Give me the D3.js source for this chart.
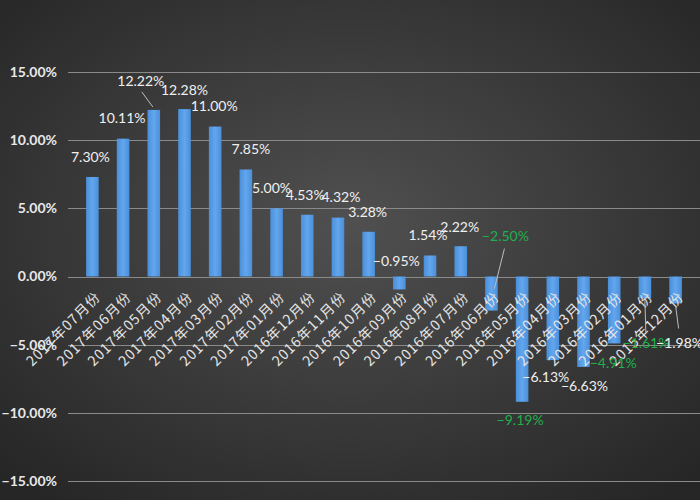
<!DOCTYPE html>
<html>
<head>
<meta charset="utf-8">
<script src="https://cdn.jsdelivr.net/npm/d3@7"></script>
<style>
  html, body { margin: 0; padding: 0; background: #333; }
  svg { display: block; }
  text { font-family: "Lato", "Noto Sans CJK SC", sans-serif; }
</style>
</head>
<body>
<div id="chart"></div>
<script>
const categories = [
  '2017年07月份', '2017年06月份', '2017年05月份', '2017年04月份', '2017年03月份',
  '2017年02月份', '2017年01月份', '2016年12月份', '2016年11月份', '2016年10月份',
  '2016年09月份', '2016年08月份', '2016年07月份', '2016年06月份', '2016年05月份',
  '2016年04月份', '2016年03月份', '2016年02月份', '2016年01月份', '2015年12月份'
];
const values = [
  7.30, 10.11, 12.22, 12.28, 11.00, 7.85, 5.00, 4.53, 4.32, 3.28,
  -0.95, 1.54, 2.22, -2.50, -9.19, -6.13, -6.63, -4.91, -1.61, -1.98
];
const yTicks = [15, 10, 5, 0, -5, -10, -15];
// which labels Excel drew in green
const greenLabels = ['2016年06月份', '2016年05月份', '2016年02月份', '2016年01月份'];

// label offsets (text centre relative to bar centre / bar end), layout only
const labelNudge = [
  [-2, -20], [-1, -21], [-13, -29], [0, -19], [-1, -20],
  [5, -20], [-5, -20], [-2, -20], [3, -21], [-1, -20],
  [-3, -28], [-2, -20], [-1, -19], [14, -74], [-2, 18],
  [-7, 17], [1, 19], [-1, 20], [1, 45], [4, 40]
];
// leader lines: index -> [from label dx,dy] [to bar dx,dy]
const leaders = {
  2: [[-12, -18], [-1, -3]],
  13: [[13, -62], [3, -22]],
  18: [[1, 35], [0, 2]],
  19: [[3, 25], [0, 2]]
};

const w = 700, h = 500;
const margin = {left: 68, right: 0};

const svg = d3.select('#chart').append('svg')
  .attr('width', w).attr('height', h)
  .attr('viewBox', `0 0 ${w} ${h}`);

const defs = svg.append('defs');
const bg = defs.append('radialGradient').attr('id', 'bg')
  .attr('cx', '50%').attr('cy', '45%').attr('r', '70%');
bg.append('stop').attr('offset', '0%').attr('stop-color', '#505050');
bg.append('stop').attr('offset', '100%').attr('stop-color', '#262626');

const barGrad = defs.append('linearGradient').attr('id', 'barGrad')
  .attr('x1', '0%').attr('x2', '100%').attr('y1', '0%').attr('y2', '0%');
barGrad.append('stop').attr('offset', '0%').attr('stop-color', '#4a8fd9');
barGrad.append('stop').attr('offset', '50%').attr('stop-color', '#62a6ee');
barGrad.append('stop').attr('offset', '100%').attr('stop-color', '#4a8fd9');

svg.append('rect').attr('width', w).attr('height', h).attr('fill', 'url(#bg)');

const y = d3.scaleLinear().domain([-15, 15]).range([481, 72]);
const x = d3.scaleBand().domain(categories).range([margin.left, w - margin.right]).padding(0.59);

// gridlines + y labels
const yAxis = svg.append('g');
yAxis.selectAll('line').data(yTicks).enter().append('line')
  .attr('x1', margin.left).attr('x2', w)
  .attr('y1', d => Math.round(y(d)) + 0.5).attr('y2', d => Math.round(y(d)) + 0.5)
  .attr('stroke', '#8a8a8a').attr('stroke-width', 1);

// bars
const cx = d => x(d) + x.bandwidth() / 2;
svg.append('g').selectAll('rect').data(categories).enter().append('rect')
  .attr('x', d => x(d))
  .attr('width', x.bandwidth())
  .attr('y', (d, i) => y(Math.max(0, values[i])))
  .attr('height', (d, i) => Math.abs(y(values[i]) - y(0)))
  .attr('fill', 'url(#barGrad)');

// category labels
svg.append('g').selectAll('text').data(categories).enter().append('text')
  .attr('transform', d => `translate(${cx(d) + 9},${298}) rotate(-45)`)
  .attr('text-anchor', 'end')
  .attr('fill', '#e6e6e6')
  .style('font-family', '"Noto Sans CJK SC", sans-serif')
  .style('font-size', '14px')
  .style('letter-spacing', '1px')
  .text(d => d);

yAxis.selectAll('text').data(yTicks).enter().append('text')
  .attr('x', 57).attr('y', d => y(d))
  .attr('dy', '0.35em')
  .attr('text-anchor', 'end')
  .attr('fill', '#e8e8e8')
  .style('font-size', '14px')
  .style('font-weight', 'bold')
  .text(d => d3.format('.2f')(d) + '%');

// leader lines
Object.keys(leaders).forEach(k => {
  const i = +k, c = categories[i];
  const [[fx, fy], [tx, ty]] = leaders[k];
  svg.append('line')
    .attr('x1', cx(c) + fx).attr('y1', y(values[i]) + fy)
    .attr('x2', cx(c) + tx).attr('y2', y(values[i]) + ty)
    .attr('stroke', '#bdbdbd').attr('stroke-width', 1);
});

// data labels
svg.append('g').selectAll('text').data(categories).enter().append('text')
  .attr('x', (d, i) => cx(d) + labelNudge[i][0])
  .attr('y', (d, i) => y(values[i]) + labelNudge[i][1])
  .attr('dy', '0.35em')
  .attr('text-anchor', 'middle')
  .attr('fill', d => greenLabels.indexOf(d) > -1 ? '#1fb04c' : '#f0f0f0')
  .style('font-size', '14px')
  .text((d, i) => d3.format('.2f')(values[i]) + '%');
</script>
</body>
</html>
